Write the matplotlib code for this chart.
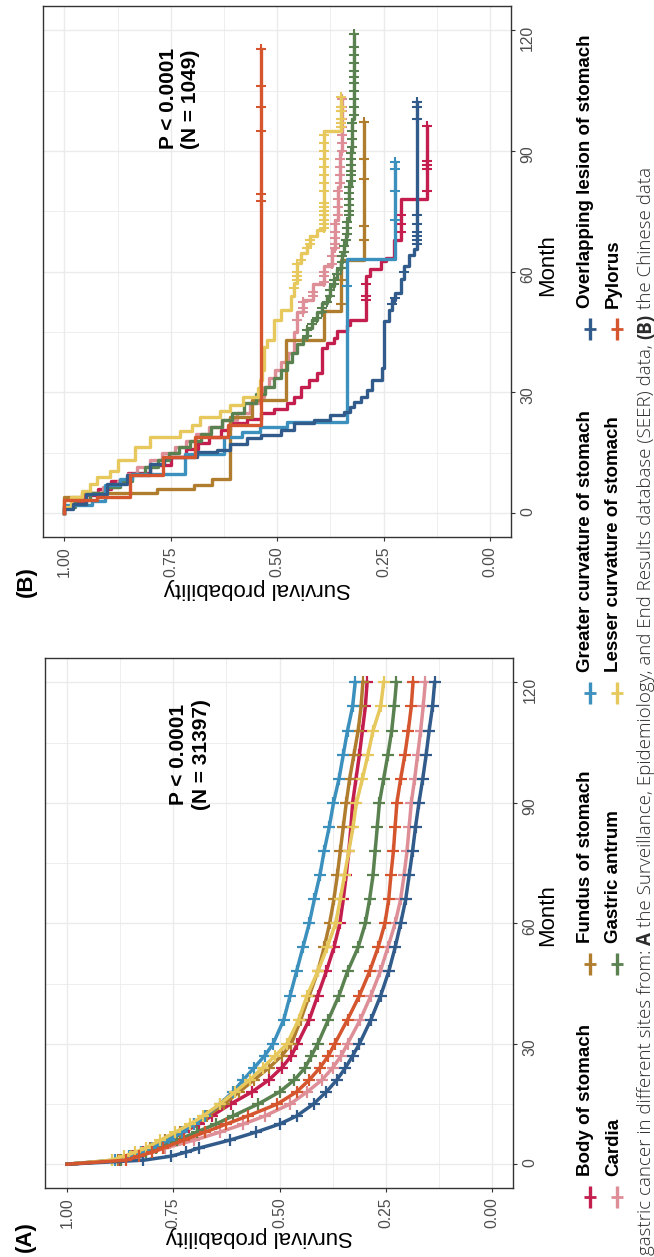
import numpy as np
import matplotlib
matplotlib.use("Agg")
import matplotlib.pyplot as plt
from matplotlib.font_manager import FontProperties, findfont

W, H, DPI = 654, 1257, 100

sites = ["Body of stomach", "Cardia", "Fundus of stomach", "Gastric antrum",
         "Greater curvature of stomach", "Lesser curvature of stomach",
         "Overlapping lesion of stomach", "Pylorus"]
site_colors = ["#C31E4E", "#DE8E96", "#B07D2E", "#5A8150",
               "#3B90BD", "#E6C85C", "#315B8A", "#D4552E"]

surv_ticks = [0.0, 0.25, 0.5, 0.75, 1.0]
surv_labels = ["0.00", "0.25", "0.50", "0.75", "1.00"]
month_ticks = [0, 30, 60, 90, 120]
month_labels = ["0", "30", "60", "90", "120"]

# ---- (A) SEER data, survival at these months
months_a = [0, 1, 2, 3, 4, 6, 8, 10, 12, 15, 18, 21, 24, 27, 30, 36, 42, 48, 54,
            60, 66, 72, 78, 84, 90, 96, 102, 108, 114, 120]
a_body = [1.0, 0.875, 0.845, 0.82, 0.80, 0.76, 0.725, 0.69, 0.66, 0.615, 0.565, 0.525, 0.495, 0.472, 0.458,
          0.43, 0.41, 0.39, 0.372, 0.358, 0.35, 0.343, 0.337, 0.332, 0.328, 0.32, 0.312, 0.305, 0.298, 0.294]
a_cardia = [1.0, 0.872, 0.835, 0.80, 0.77, 0.70, 0.64, 0.585, 0.535, 0.475, 0.435, 0.40, 0.375, 0.355, 0.34,
            0.31, 0.285, 0.263, 0.245, 0.228, 0.215, 0.207, 0.20, 0.195, 0.19, 0.182, 0.175, 0.168, 0.162, 0.157]
a_fundus = [1.0, 0.88, 0.85, 0.825, 0.805, 0.77, 0.735, 0.70, 0.67, 0.63, 0.595, 0.56, 0.525, 0.495, 0.472,
            0.45, 0.43, 0.41, 0.395, 0.382, 0.372, 0.364, 0.357, 0.35, 0.343, 0.335, 0.325, 0.315, 0.308, 0.304]
a_antrum = [1.0, 0.872, 0.84, 0.815, 0.79, 0.74, 0.695, 0.65, 0.61, 0.55, 0.50, 0.465, 0.44, 0.425, 0.41,
            0.385, 0.36, 0.34, 0.315, 0.298, 0.288, 0.28, 0.275, 0.27, 0.265, 0.255, 0.245, 0.236, 0.23, 0.225]
a_greater = [1.0, 0.888, 0.855, 0.825, 0.80, 0.76, 0.73, 0.70, 0.675, 0.64, 0.61, 0.585, 0.56, 0.535, 0.515,
             0.49, 0.475, 0.46, 0.445, 0.43, 0.418, 0.405, 0.395, 0.383, 0.373, 0.36, 0.35, 0.34, 0.328, 0.322]
a_lesser = [1.0, 0.895, 0.865, 0.84, 0.815, 0.78, 0.745, 0.71, 0.68, 0.64, 0.605, 0.57, 0.54, 0.51, 0.482,
            0.455, 0.435, 0.41, 0.388, 0.368, 0.357, 0.347, 0.337, 0.327, 0.319, 0.305, 0.292, 0.28, 0.262, 0.255]
a_overlap = [1.0, 0.82, 0.755, 0.72, 0.69, 0.617, 0.555, 0.50, 0.46, 0.42, 0.39, 0.365, 0.345, 0.328, 0.312,
             0.285, 0.262, 0.243, 0.228, 0.215, 0.203, 0.195, 0.187, 0.18, 0.172, 0.163, 0.155, 0.148, 0.14, 0.135]
a_pylorus = [1.0, 0.862, 0.83, 0.80, 0.775, 0.725, 0.675, 0.625, 0.575, 0.505, 0.46, 0.43, 0.405, 0.385, 0.37,
             0.34, 0.312, 0.288, 0.268, 0.252, 0.243, 0.238, 0.232, 0.228, 0.224, 0.215, 0.205, 0.197, 0.19, 0.186]

# ---- (B) Chinese data, KM steps (time, survival after step) and censor times
b_body_t = [0, 1.5, 3, 4.5, 6, 8, 10, 12, 14, 16, 17.5, 19, 20.6, 22.3, 23.5, 24.8, 26, 27.3, 29, 31.4,
            33.1, 34.8, 41, 42.3, 43.5, 45.2, 46.8, 48.1, 58.9, 60.6, 62.6, 63.5, 68, 78, 96.3]
b_body_s = [1.0, 0.98, 0.955, 0.92, 0.89, 0.85, 0.80, 0.75, 0.715, 0.685, 0.66, 0.633, 0.61, 0.571, 0.539,
            0.508, 0.476, 0.461, 0.445, 0.426, 0.406, 0.394, 0.382, 0.367, 0.359, 0.335, 0.328, 0.292, 0.281,
            0.257, 0.245, 0.226, 0.21, 0.147, 0.147]
b_body_c = [53, 54, 57, 70, 72, 74, 80, 85.5, 86.5, 87.5, 96.3]

b_cardia_t = [0, 1.5, 3.2, 5, 6.5, 8, 9.8, 11.5, 13.1, 15, 16.5, 18, 19.8, 21.5, 23.1, 25, 27.3, 29, 31.4,
              33.5, 35.6, 37.5, 39.8, 45, 50, 53, 57, 61.5, 65.6, 73, 81, 90, 103]
b_cardia_s = [1.0, 0.98, 0.95, 0.91, 0.875, 0.85, 0.83, 0.80, 0.77, 0.74, 0.715, 0.69, 0.66, 0.63, 0.594,
              0.565, 0.54, 0.53, 0.52, 0.505, 0.49, 0.475, 0.46, 0.453, 0.44, 0.415, 0.39, 0.37, 0.365, 0.356,
              0.352, 0.348, 0.348]
b_cardia_c = [48, 50, 51, 52.5, 54, 55, 57.5, 59, 60, 62, 64, 66, 67, 68.5, 70, 72, 74, 76, 78, 80, 82, 84,
              86, 88, 90, 92, 94, 96, 98, 100, 101, 103]

b_fundus_t = [0, 4, 5, 6.1, 6.9, 8.6, 24, 28.1, 43.1, 50.2, 63, 97.2]
b_fundus_s = [1.0, 0.958, 0.783, 0.696, 0.653, 0.61, 0.56, 0.48, 0.39, 0.351, 0.296, 0.296]
b_fundus_c = [52, 58, 68, 71.4, 83, 88, 97.2]

b_antrum_t = [0, 1.5, 3.2, 5, 6.5, 8, 9.8, 11.5, 13.1, 15, 16.5, 18, 19.8, 21.5, 23.1, 25, 27.3, 29.5,
              31.4, 33.5, 35.6, 37.5, 39.8, 42, 43.9, 46, 48.1, 50, 52.2, 54, 56.4, 58.5, 60.6, 62.5, 64.7,
              66.8, 68.9, 73, 81.4, 89.7, 98, 119.2]
b_antrum_s = [1.0, 0.975, 0.94, 0.905, 0.87, 0.84, 0.81, 0.78, 0.755, 0.73, 0.705, 0.68, 0.655, 0.63, 0.605,
              0.578, 0.55, 0.528, 0.508, 0.49, 0.476, 0.465, 0.453, 0.44, 0.429, 0.418, 0.406, 0.394, 0.382,
              0.375, 0.367, 0.359, 0.351, 0.347, 0.343, 0.339, 0.335, 0.331, 0.327, 0.323, 0.319, 0.319]
b_antrum_c = [44, 45.5, 47, 48.5, 50, 51, 52.5, 54, 55.5, 57, 58, 59.5, 61, 62.5, 64, 65, 66.5, 68, 69.5,
              71, 72.5, 74, 75, 76.5, 78, 79.5, 81, 82.5, 84, 85, 86.5, 88, 89.5, 91, 93, 95, 97, 99, 101,
              103, 105, 107, 108.5, 110, 112, 114, 116, 119.2]

b_greater_t = [0, 2, 3, 7, 8.5, 9.8, 14.8, 19, 20.2, 21.5, 22.7, 63.2, 87.2]
b_greater_s = [1.0, 0.935, 0.905, 0.87, 0.84, 0.716, 0.625, 0.582, 0.54, 0.476, 0.335, 0.222, 0.222]
b_greater_c = [56.4, 73, 80, 85.5, 87.2]

b_lesser_t = [0, 1.5, 4, 5.5, 7.3, 9, 10.6, 13.1, 16.4, 18.9, 20.5, 21.8, 23.9, 25.5, 27, 28.9, 31, 33.1,
              35.6, 41.4, 43.1, 48.1, 50.6, 53.9, 57.2, 62.2, 64.7, 66.4, 68.9, 70.5, 95.1, 103.4]
b_lesser_s = [1.0, 0.985, 0.959, 0.94, 0.924, 0.893, 0.873, 0.834, 0.799, 0.728, 0.70, 0.681, 0.634, 0.61,
              0.58, 0.545, 0.54, 0.535, 0.531, 0.524, 0.508, 0.492, 0.468, 0.461, 0.453, 0.445, 0.429, 0.422,
              0.406, 0.39, 0.351, 0.351]
b_lesser_c = [56, 58, 59, 60, 62, 63, 66, 67, 68, 71, 72, 73, 74, 75, 76, 77, 80, 82, 84, 86, 88, 90, 92,
              94, 96, 97, 98, 100, 101, 103.4]

b_overlap_t = [0, 1, 2.3, 4.8, 7.3, 9.5, 12.3, 14, 15.2, 15.6, 17.3, 18.6, 19.4, 20.6, 22.3, 23.1, 24.4,
               25.2, 26.5, 27.7, 29, 30.5, 33.1, 36, 47.7, 50.6, 53.1, 54.7, 58.1, 61.4, 64.3, 65.6, 102.2]
b_overlap_s = [1.0, 0.98, 0.95, 0.90, 0.853, 0.80, 0.766, 0.688, 0.641, 0.61, 0.571, 0.539, 0.492, 0.461,
               0.414, 0.375, 0.343, 0.328, 0.32, 0.304, 0.288, 0.277, 0.253, 0.249, 0.237, 0.23, 0.222, 0.21,
               0.202, 0.19, 0.179, 0.171, 0.171]
b_overlap_c = [52, 53.5, 60, 67, 68, 69, 70, 72, 74, 98, 101, 102.2]

b_pylorus_t = [0, 3.2, 4, 9.4, 14, 19, 21.9, 115.5]
b_pylorus_s = [1.0, 0.923, 0.846, 0.769, 0.692, 0.615, 0.538, 0.538]
b_pylorus_c = [77.6, 79.3, 95.1, 100.9, 106.3, 115.5]

p_text_a = "P < 0.0001\n(N = 31397)"
p_text_b = "P < 0.0001\n(N = 1049)"
caption_parts = [("gastric cancer in different sites from:", "normal"), ("A", "bold"),
                 ("the Surveillance, Epidemiology, and End Results database (SEER) data,", "normal"),
                 ("(B)", "bold"), ("the Chinese data", "normal")]


def pick_font(names):
    for n in names:
        try:
            findfont(FontProperties(family=n), fallback_to_default=False)
            return n
        except Exception:
            pass
    return "DejaVu Sans"


narrow = pick_font(["Liberation Sans Narrow", "DejaVu Sans Condensed", "Liberation Sans"])
sans = pick_font(["Liberation Sans", "DejaVu Sans"])
cap_font = pick_font(["Open Sans", "Lato", "DejaVu Sans"])


def setup_axes(ax):
    # survival runs right-to-left, month runs upward (page turned a quarter)
    ax.set_xlim(1.051, -0.05)
    ax.set_ylim(-6, 126)
    ax.set_xticks(surv_ticks)
    ax.set_xticklabels(surv_labels, rotation=90, family=narrow, fontsize=11.3, color="#4D4D4D")
    ax.set_xticks([0.125, 0.375, 0.625, 0.875], minor=True)
    ax.yaxis.tick_right()
    ax.set_yticks(month_ticks)
    ax.set_yticklabels(month_labels, rotation=90, family=narrow, fontsize=11.3, color="#4D4D4D")
    ax.set_yticks([15, 45, 75, 105], minor=True)
    ax.tick_params(which="minor", length=0)
    ax.tick_params(which="major", length=3, width=0.8, color="#333333", pad=3.5)
    ax.grid(which="major", color="#EBEBEB", lw=1.0)
    ax.grid(which="minor", color="#EBEBEB", lw=0.6)
    ax.set_axisbelow(True)
    for sp in ax.spines.values():
        sp.set_color("#333333")
        sp.set_linewidth(1.0)


fig = plt.figure(figsize=(W / DPI, H / DPI), dpi=DPI)
fig.patch.set_facecolor("white")

ax_b = fig.add_axes([42.7 / W, 1 - 537.3 / H, 468.5 / W, 531 / H])
ax_a = fig.add_axes([45.3 / W, 1 - 1188.3 / H, 468 / W, 530 / H])
setup_axes(ax_a)
setup_axes(ax_b)

curves_a = [a_body, a_cardia, a_fundus, a_antrum, a_greater, a_lesser, a_overlap, a_pylorus]
for surv, col in zip(curves_a, site_colors):
    ax_a.plot(surv, months_a, color=col, lw=2.5, marker="+", ms=8.5, mew=1.6,
              markevery=list(range(1, len(months_a))))

curves_b = [(b_body_t, b_body_s, b_body_c), (b_cardia_t, b_cardia_s, b_cardia_c),
            (b_fundus_t, b_fundus_s, b_fundus_c), (b_antrum_t, b_antrum_s, b_antrum_c),
            (b_greater_t, b_greater_s, b_greater_c), (b_lesser_t, b_lesser_s, b_lesser_c),
            (b_overlap_t, b_overlap_s, b_overlap_c), (b_pylorus_t, b_pylorus_s, b_pylorus_c)]
for (t, s, cens), col in zip(curves_b, site_colors):
    t = np.asarray(t)
    s = np.asarray(s)
    ax_b.plot(s, t, color=col, lw=2.4, drawstyle="steps-pre")
    idx = np.searchsorted(t, cens, side="right") - 1
    ax_b.plot(s[idx], cens, ls="none", color=col, marker="+", ms=6.5, mew=1.5)

ax_a.text(0.71, 102, p_text_a, rotation=90, ha="center", va="center", family=sans,
          fontsize=15, fontweight="bold", linespacing=1.3, multialignment="center")
ax_b.text(0.73, 103, p_text_b, rotation=90, ha="center", va="center", family=sans,
          fontsize=15, fontweight="bold", linespacing=1.2, multialignment="center")

# overlay in pixel units (y down) for titles, legend and caption
ov = fig.add_axes([0, 0, 1, 1])
ov.set_xlim(0, W)
ov.set_ylim(H, 0)
ov.axis("off")

for lab, (x, y) in [("(B)", (26, 582)), ("(A)", (25, 1237))]:
    ov.text(x, y, lab, rotation=90, ha="center", va="center", family=sans, fontsize=16, fontweight="bold")
for x, y in [(257, 589), (259, 1237)]:
    ov.text(x, y, "Survival probability", rotation=180, ha="center", va="center",
            family=sans, fontsize=16, color="black")
for y in [265, 915]:
    ov.text(548, y, "Month", rotation=90, ha="center", va="center", family=sans, fontsize=16)

key_y = [1196.7, 964, 692.7, 328.5]
row_x = [590, 616.7]
base_x = [591.5, 619.3]
for i, (name, col) in enumerate(zip(sites, site_colors)):
    col_i, row_i = divmod(i, 2)
    ky = key_y[col_i]
    ov.plot([row_x[row_i], row_x[row_i]], [ky - 11, ky + 11], color=col, lw=2.4, solid_capstyle="butt")
    ov.plot([row_x[row_i]], [ky], color=col, marker="+", ms=9, mew=2)
    ov.text(base_x[row_i] - 1.5, ky - 21, name, rotation=90, rotation_mode="anchor", ha="left",
            va="baseline", family=sans, fontsize=13.5, fontweight="bold")

# caption, cut off like the source page
cap_size = 13.5
renderer = fig.canvas.get_renderer()
probe1 = ov.text(0, 0, "x x", family=cap_font, fontsize=cap_size)
probe2 = ov.text(0, 0, "xx", family=cap_font, fontsize=cap_size)
space_w = probe1.get_window_extent(renderer).width - probe2.get_window_extent(renderer).width
probe1.remove()
probe2.remove()
y_cur = 1255
for txt, wt in caption_parts:
    t_obj = ov.text(646, y_cur, txt, rotation=90, rotation_mode="anchor", ha="left", va="center",
                    family=cap_font, fontsize=cap_size, fontweight=("bold" if wt == "bold" else "light"),
                    color="#2B2B2B")
    ext = t_obj.get_window_extent(renderer)
    y_cur -= ext.height + space_w

fig.savefig("out.png", dpi=DPI, facecolor="white")
